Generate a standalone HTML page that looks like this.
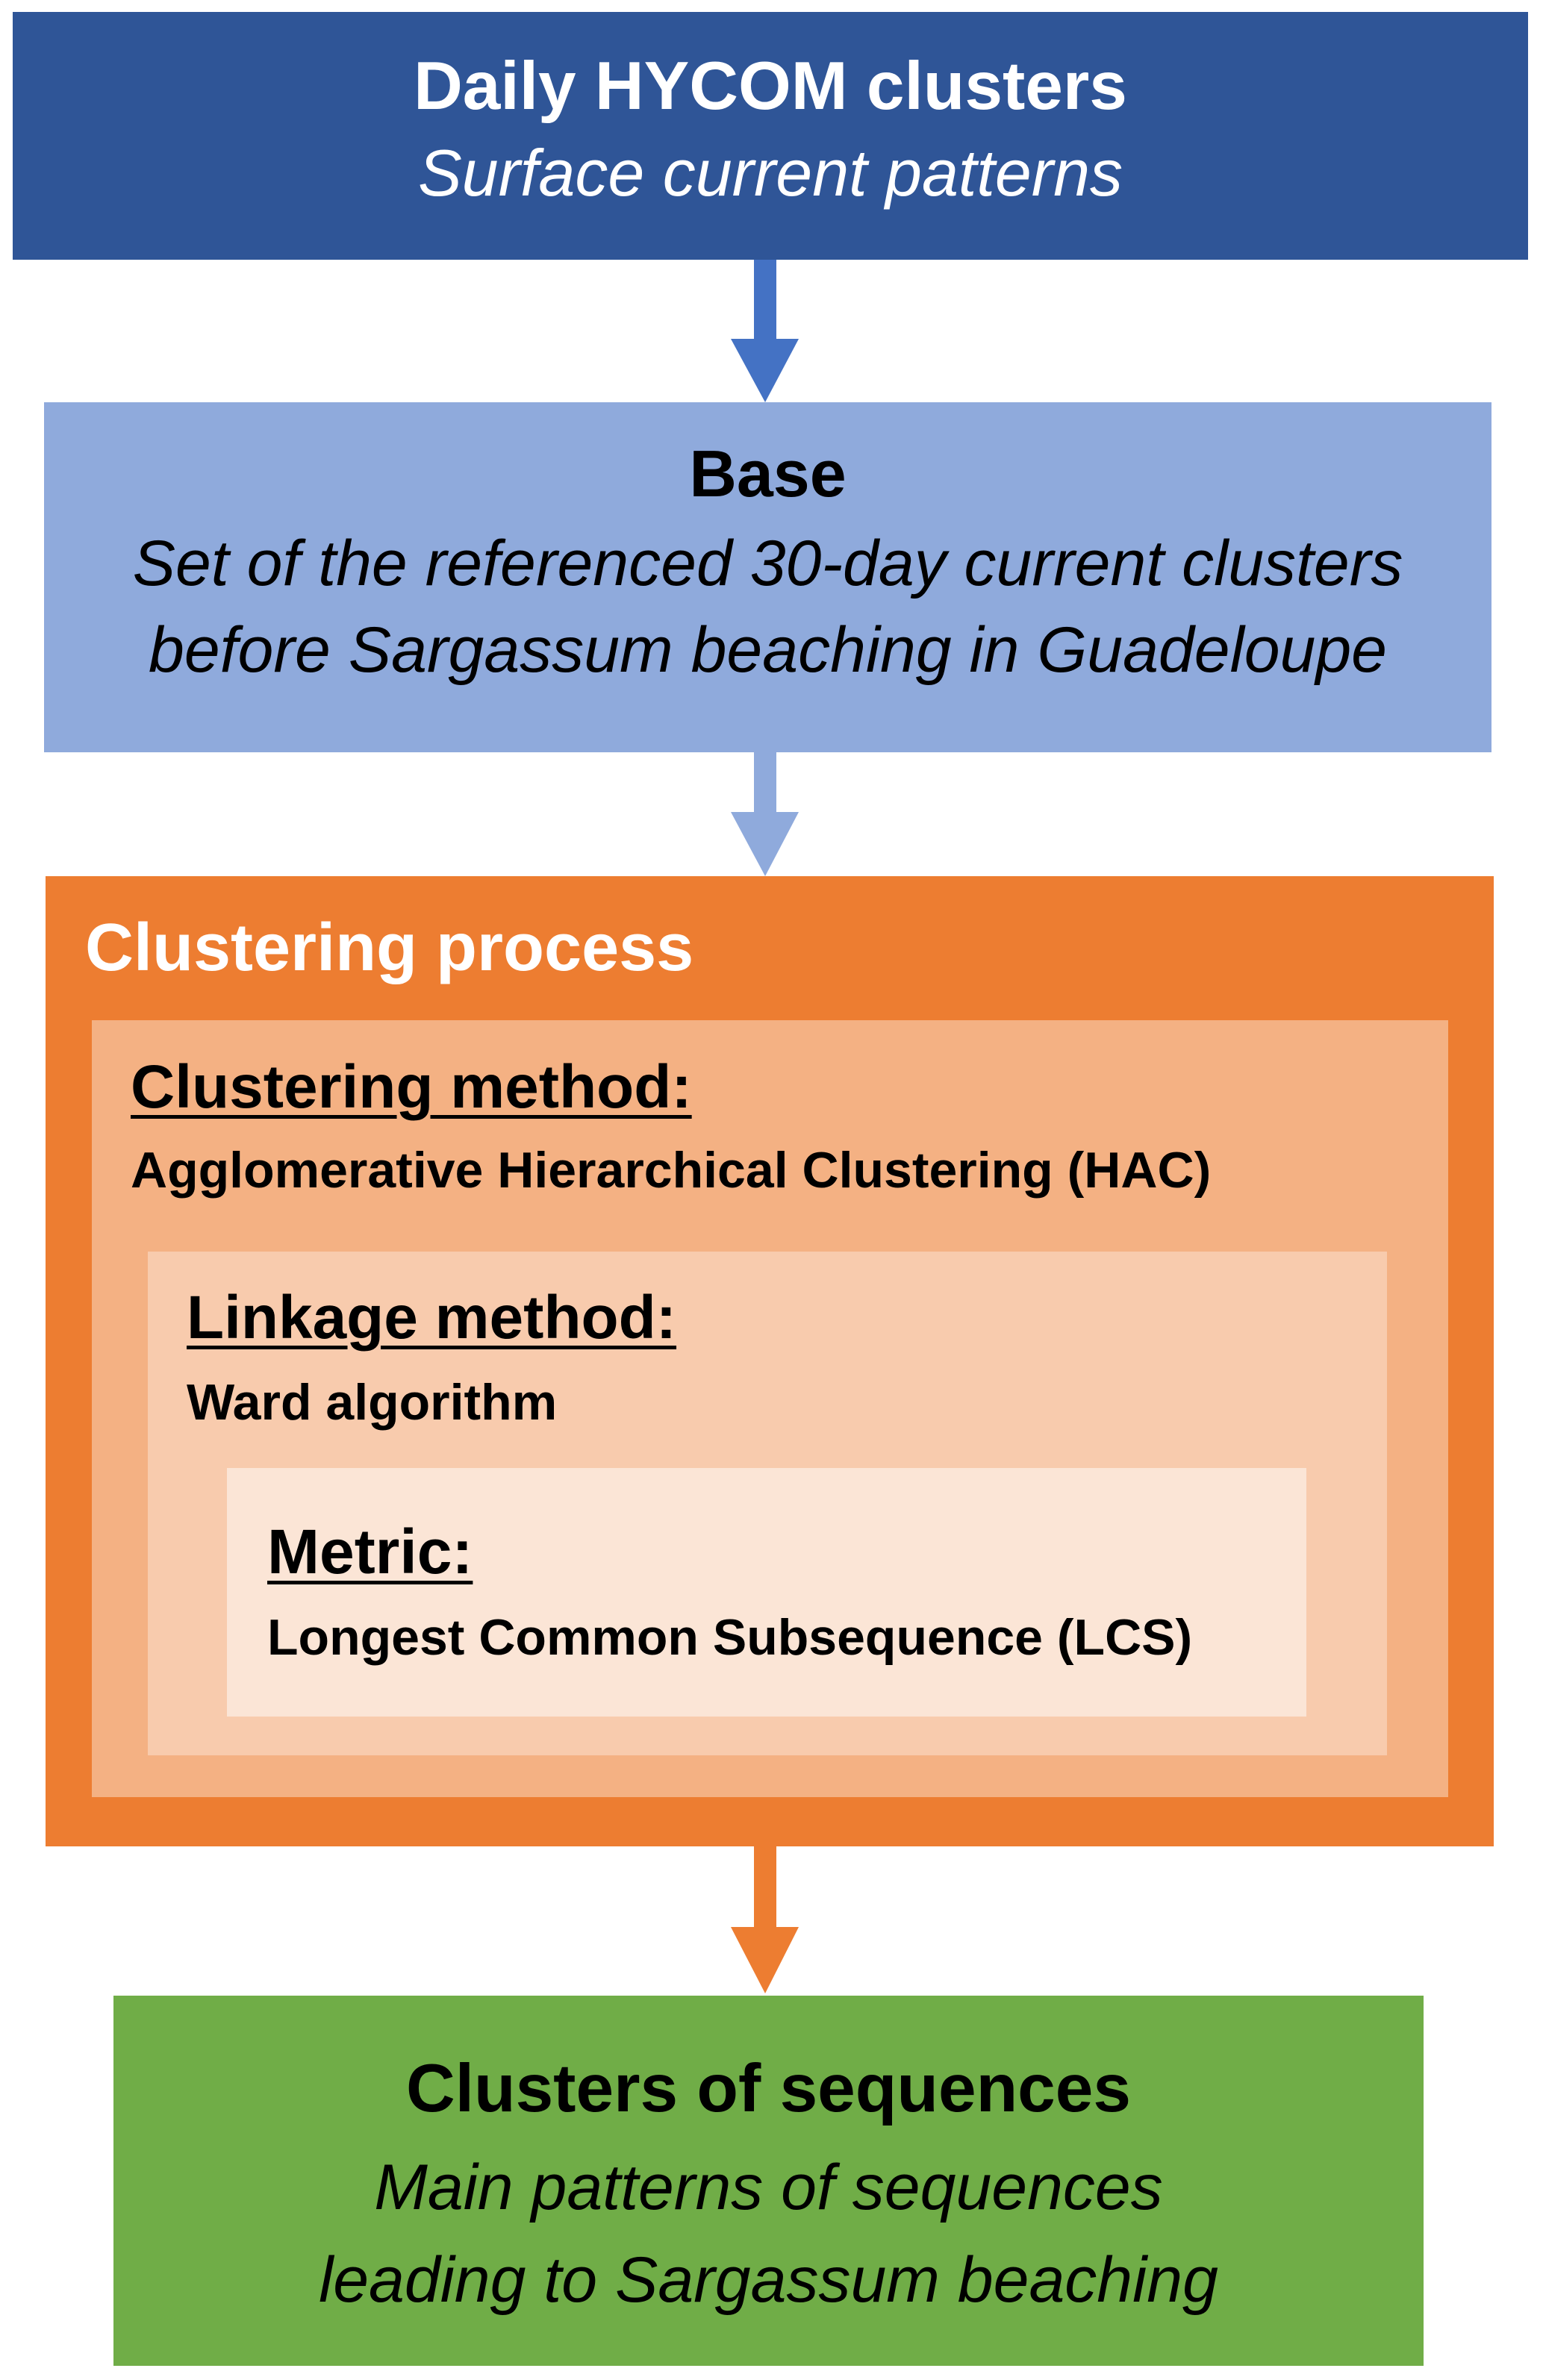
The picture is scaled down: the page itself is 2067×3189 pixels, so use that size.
<!DOCTYPE html>
<html><head><meta charset="utf-8"><style>
html,body{margin:0;padding:0;background:#fff;}
body{width:2067px;height:3189px;position:relative;overflow:hidden;font-family:"Liberation Sans",sans-serif;}
.b{position:absolute;}
.t{position:absolute;line-height:1;white-space:nowrap;}
.c{left:0;right:0;text-align:center;}
.bold{font-weight:bold;}
.it{font-style:italic;}
.u{text-decoration:underline;text-decoration-thickness:5px;text-underline-offset:10px;}
</style></head><body>
<div class="b" style="left:17px;top:16px;width:2030px;height:332px;background:#2f5597;">
  <div class="t c bold" style="top:54px;font-size:91px;color:#fff;">Daily HYCOM clusters</div>
  <div class="t c it" style="top:172px;font-size:88px;color:#fff;">Surface current patterns</div>
</div>
<svg class="b" style="left:0;top:0" width="2067" height="3189">
  <rect x="1010" y="348" width="30" height="106" fill="#4472c4"/>
  <polygon points="979,454 1070,454 1025,539" fill="#4472c4"/>
  <rect x="1010" y="1008" width="30" height="80" fill="#8faadc"/>
  <polygon points="979,1088 1070,1088 1025,1174" fill="#8faadc"/>
  <rect x="1010" y="2474" width="30" height="108" fill="#ed7d31"/>
  <polygon points="979,2582 1070,2582 1025,2671" fill="#ed7d31"/>
</svg>
<div class="b" style="left:59px;top:539px;width:1939px;height:469px;background:#8faadc;">
  <div class="t c bold" style="top:52px;font-size:88px;color:#000;">Base</div>
  <div class="t c it" style="top:173px;font-size:86px;color:#000;">Set of the referenced 30-day current clusters</div>
  <div class="t c it" style="top:289px;font-size:86px;color:#000;">before Sargassum beaching in Guadeloupe</div>
</div>
<div class="b" style="left:61px;top:1174px;width:1940px;height:1300px;background:#ed7d31;"></div>
<div class="t bold" style="left:114px;top:1225px;font-size:90px;color:#fff;">Clustering process</div>
<div class="b" style="left:123px;top:1367px;width:1817px;height:1041px;background:#f4b183;"></div>
<div class="t bold u" style="left:175px;top:1416px;font-size:82px;color:#000;">Clustering method:</div>
<div class="t bold" style="left:175px;top:1534px;font-size:68px;color:#000;">Agglomerative Hierarchical Clustering (HAC)</div>
<div class="b" style="left:198px;top:1677px;width:1660px;height:675px;background:#f8cbad;"></div>
<div class="t bold u" style="left:250px;top:1725px;font-size:82px;color:#000;">Linkage method:</div>
<div class="t bold" style="left:250px;top:1845px;font-size:68px;color:#000;">Ward algorithm</div>
<div class="b" style="left:304px;top:1967px;width:1446px;height:333px;background:#fbe5d6;"></div>
<div class="t bold u" style="left:358px;top:2037px;font-size:84px;color:#000;">Metric:</div>
<div class="t bold" style="left:358px;top:2160px;font-size:68px;color:#000;">Longest Common Subsequence (LCS)</div>
<div class="b" style="left:152px;top:2674px;width:1755px;height:496px;background:#70ad47;">
  <div class="t c bold" style="top:79px;font-size:91px;color:#000;">Clusters of sequences</div>
  <div class="t c it" style="top:214px;font-size:86px;color:#000;">Main patterns of sequences</div>
  <div class="t c it" style="top:338px;font-size:86px;color:#000;">leading to Sargassum beaching</div>
</div>
</body></html>
